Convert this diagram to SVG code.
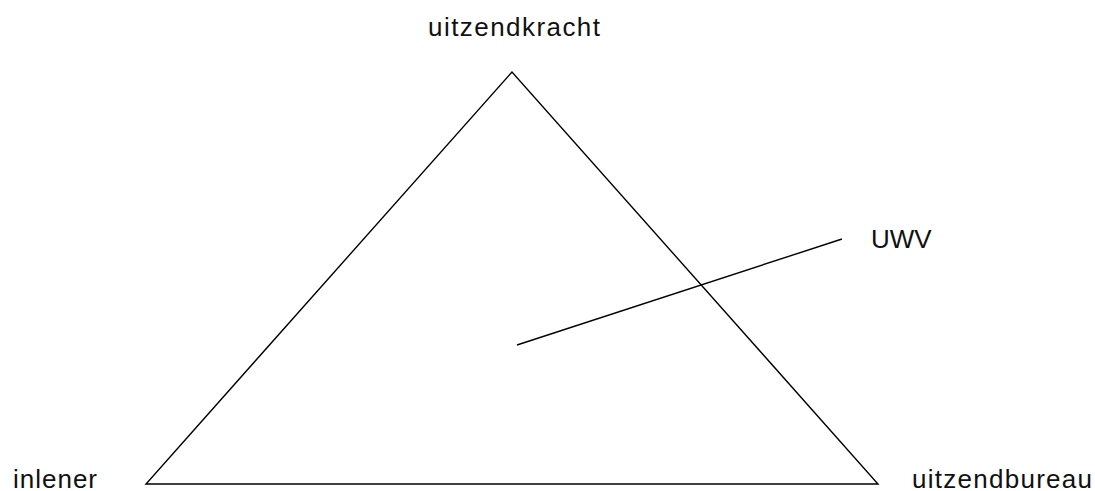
<svg xmlns="http://www.w3.org/2000/svg" width="1095" height="491" viewBox="0 0 1095 491">
<style>
.lbl{font-family:"Liberation Sans",Arial,sans-serif;font-size:26px;fill:#111}
.ln{fill:none;stroke:#000;stroke-width:1.4}
</style>
<rect width="1095" height="491" fill="#fff"/>
<g id="connectors">
<polygon class="ln" points="512,72 146,484 878,484"/>
<line class="ln" x1="517" y1="345" x2="842" y2="239"/>
</g>
<g id="uitzendkracht"><text class="lbl" x="428" y="35.5" textLength="172" lengthAdjust="spacing">uitzendkracht</text></g>
<g id="inlener"><text class="lbl" x="13" y="488" textLength="84" lengthAdjust="spacing">inlener</text></g>
<g id="uitzendbureau"><text class="lbl" x="912" y="488" textLength="180" lengthAdjust="spacing">uitzendbureau</text></g>
<g id="UWV"><text class="lbl" x="871" y="247.5">UWV</text></g>
</svg>
